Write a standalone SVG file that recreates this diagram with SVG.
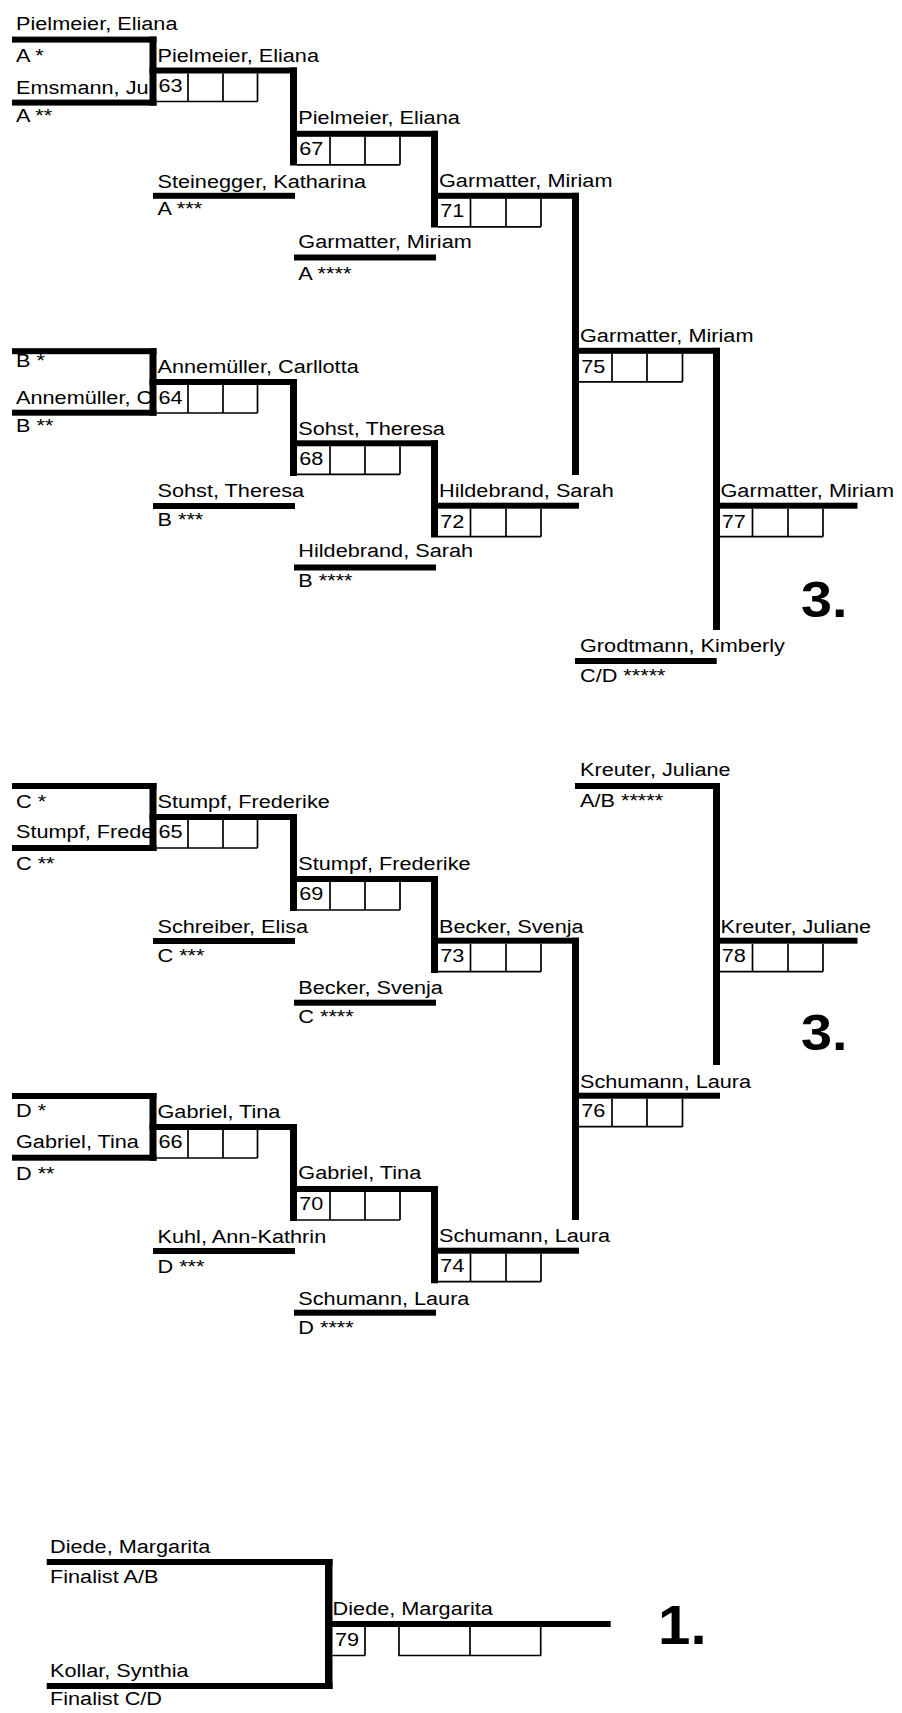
<svg xmlns="http://www.w3.org/2000/svg" width="902" height="1713" viewBox="0 0 902 1713">
<style>
.b{fill:#000}
.c{fill:none;stroke:#000;stroke-width:1.7}
.t{font-family:"Liberation Sans",Arial,sans-serif;font-size:19.2px;fill:#000}
.big{font-family:"Liberation Sans",Arial,sans-serif;font-size:50px;font-weight:bold;fill:#000}
.big1{font-family:"Liberation Sans",Arial,sans-serif;font-size:56px;font-weight:bold;fill:#000}
</style>
<defs>
<clipPath id="clipL" clipPathUnits="userSpaceOnUse"><rect x="-20" y="-30" width="138.8" height="40"/></clipPath>
</defs>
<rect width="902" height="1713" fill="#fff"/>

<!-- Block A -->
<g id="entrant-A1"><rect class="b" x="12" y="36.6" width="144.5" height="6"/><text class="t" transform="translate(16,30) scale(1.13,1)">Pielmeier, Eliana</text><text class="t" transform="translate(16,61.7) scale(1.13,1)">A *</text></g>
<g id="entrant-A2"><rect class="b" x="12" y="99.6" width="144.5" height="6"/><text class="t" clip-path="url(#clipL)" transform="translate(16,94.3) scale(1.13,1)">Emsmann, Ju</text><text class="t" transform="translate(16,121.7) scale(1.13,1)">A **</text></g>
<g id="match-63"><rect class="b" x="149.5" y="67.5" width="147.5" height="6"/><path class="c" d="M156.5,101.5H257.5M188,73.5V101.5M223,73.5V101.5M257.5,73.5V101.5"/><text class="t" transform="translate(157.5,62.3) scale(1.13,1)">Pielmeier, Eliana</text><text class="t" transform="translate(158.5,91.8) scale(1.13,1)">63</text></g>
<g id="match-67"><rect class="b" x="290" y="130.8" width="148" height="6"/><path class="c" d="M297,164.8H400M330,136.8V164.8M365,136.8V164.8M400,136.8V164.8"/><text class="t" transform="translate(298.3,124) scale(1.13,1)">Pielmeier, Eliana</text><text class="t" transform="translate(299.3,155) scale(1.13,1)">67</text></g>
<g id="entrant-A3"><rect class="b" x="153" y="192.8" width="142" height="6"/><text class="t" transform="translate(157.5,187.7) scale(1.13,1)">Steinegger, Katharina</text><text class="t" transform="translate(157.5,215) scale(1.13,1)">A ***</text></g>
<g id="match-71"><rect class="b" x="431" y="192.8" width="148" height="6"/><path class="c" d="M438,226.8H541M470.5,198.8V226.8M506,198.8V226.8M541,198.8V226.8"/><text class="t" transform="translate(439,187.3) scale(1.13,1)">Garmatter, Miriam</text><text class="t" transform="translate(440.3,217.3) scale(1.13,1)">71</text></g>
<g id="entrant-A4"><rect class="b" x="294" y="254.5" width="142" height="6"/><text class="t" transform="translate(298.3,247.7) scale(1.13,1)">Garmatter, Miriam</text><text class="t" transform="translate(298.3,280) scale(1.13,1)">A ****</text></g>
<g id="match-75"><rect class="b" x="572" y="347.8" width="148" height="6"/><path class="c" d="M579,381.8H682.5M612,353.8V381.8M647,353.8V381.8M682.5,353.8V381.8"/><text class="t" transform="translate(580,341.7) scale(1.13,1)">Garmatter, Miriam</text><text class="t" transform="translate(581.3,372.5) scale(1.13,1)">75</text></g>
<g id="match-77"><rect class="b" x="713" y="502.7" width="144.5" height="6"/><path class="c" d="M720,536.7H823M752.5,508.7V536.7M788,508.7V536.7M823,508.7V536.7"/><text class="t" transform="translate(720.5,497.3) scale(1.13,1)">Garmatter, Miriam</text><text class="t" transform="translate(721.8,527.5) scale(1.13,1)">77</text></g>
<g id="entrant-CD5"><rect class="b" x="575" y="658" width="141.7" height="6"/><text class="t" transform="translate(580,652.3) scale(1.13,1)">Grodtmann, Kimberly</text><text class="t" transform="translate(580,681.7) scale(1.13,1)">C/D *****</text></g>
<g id="place-3a"><text class="big" transform="translate(801,616.7) scale(1.115,1)">3.</text></g>

<!-- Block B -->
<g id="entrant-B1"><rect class="b" x="12" y="348.2" width="144.5" height="6"/><text class="t" transform="translate(16,366.7) scale(1.13,1)">B *</text></g>
<g id="entrant-B2"><rect class="b" x="12" y="409.7" width="144.5" height="6"/><text class="t" clip-path="url(#clipL)" transform="translate(16,404) scale(1.13,1)">Annemüller, C</text><text class="t" transform="translate(16,431.7) scale(1.13,1)">B **</text></g>
<g id="match-64"><rect class="b" x="149.5" y="379" width="147.5" height="6"/><path class="c" d="M156.5,413H257.5M188,385V413M223,385V413M257.5,385V413"/><text class="t" transform="translate(157.5,373.3) scale(1.13,1)">Annemüller, Carllotta</text><text class="t" transform="translate(158.5,403.5) scale(1.13,1)">64</text></g>
<g id="match-68"><rect class="b" x="290" y="440.3" width="148" height="6"/><path class="c" d="M297,474.3H400M330,446.3V474.3M365,446.3V474.3M400,446.3V474.3"/><text class="t" transform="translate(298.3,435) scale(1.13,1)">Sohst, Theresa</text><text class="t" transform="translate(299.3,464.8) scale(1.13,1)">68</text></g>
<g id="entrant-B3"><rect class="b" x="153" y="503" width="142" height="6"/><text class="t" transform="translate(157.5,496.7) scale(1.13,1)">Sohst, Theresa</text><text class="t" transform="translate(157.5,526) scale(1.13,1)">B ***</text></g>
<g id="match-72"><rect class="b" x="431" y="502.7" width="148" height="6"/><path class="c" d="M438,536.7H541M470.5,508.7V536.7M506,508.7V536.7M541,508.7V536.7"/><text class="t" transform="translate(439,497.3) scale(1.13,1)">Hildebrand, Sarah</text><text class="t" transform="translate(440.3,527.5) scale(1.13,1)">72</text></g>
<g id="entrant-B4"><rect class="b" x="294" y="564.5" width="142" height="6"/><text class="t" transform="translate(298.3,556.7) scale(1.13,1)">Hildebrand, Sarah</text><text class="t" transform="translate(298.3,586.7) scale(1.13,1)">B ****</text></g>

<!-- Block C -->
<g id="entrant-C1"><rect class="b" x="12" y="783" width="144.5" height="6"/><text class="t" transform="translate(16,807.7) scale(1.13,1)">C *</text></g>
<g id="entrant-C2"><rect class="b" x="12" y="845" width="144.5" height="6"/><text class="t" clip-path="url(#clipL)" transform="translate(16,838.3) scale(1.13,1)">Stumpf, Frede</text><text class="t" transform="translate(16,870) scale(1.13,1)">C **</text></g>
<g id="match-65"><rect class="b" x="149.5" y="814" width="147.5" height="6"/><path class="c" d="M156.5,848H257.5M188,820V848M223,820V848M257.5,820V848"/><text class="t" transform="translate(157.5,807.7) scale(1.13,1)">Stumpf, Frederike</text><text class="t" transform="translate(158.5,838.3) scale(1.13,1)">65</text></g>
<g id="match-69"><rect class="b" x="290" y="876" width="148" height="6"/><path class="c" d="M297,910H400M330,882V910M365,882V910M400,882V910"/><text class="t" transform="translate(298.3,870) scale(1.13,1)">Stumpf, Frederike</text><text class="t" transform="translate(299.3,900.3) scale(1.13,1)">69</text></g>
<g id="entrant-C3"><rect class="b" x="153" y="938" width="142" height="6"/><text class="t" transform="translate(157.5,932.7) scale(1.13,1)">Schreiber, Elisa</text><text class="t" transform="translate(157.5,961.7) scale(1.13,1)">C ***</text></g>
<g id="match-73"><rect class="b" x="431" y="937.7" width="148" height="6"/><path class="c" d="M438,971.7H541M470.5,943.7V971.7M506,943.7V971.7M541,943.7V971.7"/><text class="t" transform="translate(439,932.7) scale(1.13,1)">Becker, Svenja</text><text class="t" transform="translate(440.3,962) scale(1.13,1)">73</text></g>
<g id="entrant-C4"><rect class="b" x="294" y="999.7" width="142" height="6"/><text class="t" transform="translate(298.3,994) scale(1.13,1)">Becker, Svenja</text><text class="t" transform="translate(298.3,1023.3) scale(1.13,1)">C ****</text></g>
<g id="entrant-AB5"><rect class="b" x="575" y="783" width="145" height="6"/><text class="t" transform="translate(580,776) scale(1.13,1)">Kreuter, Juliane</text><text class="t" transform="translate(580,806.7) scale(1.13,1)">A/B *****</text></g>
<g id="match-78"><rect class="b" x="713" y="937.7" width="144.5" height="6"/><path class="c" d="M720,971.7H823M752.5,943.7V971.7M788,943.7V971.7M823,943.7V971.7"/><text class="t" transform="translate(720.5,932.7) scale(1.13,1)">Kreuter, Juliane</text><text class="t" transform="translate(721.8,962) scale(1.13,1)">78</text></g>
<g id="match-76"><rect class="b" x="572" y="1092.7" width="148" height="6"/><path class="c" d="M579,1126.7H682.5M612,1098.7V1126.7M647,1098.7V1126.7M682.5,1098.7V1126.7"/><text class="t" transform="translate(580,1087.7) scale(1.13,1)">Schumann, Laura</text><text class="t" transform="translate(581.3,1117.3) scale(1.13,1)">76</text></g>
<g id="place-3b"><text class="big" transform="translate(801,1050) scale(1.115,1)">3.</text></g>

<!-- Block D -->
<g id="entrant-D1"><rect class="b" x="12" y="1093" width="144.5" height="6"/><text class="t" transform="translate(16,1116.7) scale(1.13,1)">D *</text></g>
<g id="entrant-D2"><rect class="b" x="12" y="1154.7" width="144.5" height="6"/><text class="t" transform="translate(16,1148.3) scale(1.13,1)">Gabriel, Tina</text><text class="t" transform="translate(16,1180) scale(1.13,1)">D **</text></g>
<g id="match-66"><rect class="b" x="149.5" y="1124" width="147.5" height="6"/><path class="c" d="M156.5,1158H257.5M188,1130V1158M223,1130V1158M257.5,1130V1158"/><text class="t" transform="translate(157.5,1118.3) scale(1.13,1)">Gabriel, Tina</text><text class="t" transform="translate(158.5,1148.3) scale(1.13,1)">66</text></g>
<g id="match-70"><rect class="b" x="290" y="1186" width="148" height="6"/><path class="c" d="M297,1220H400M330,1192V1220M365,1192V1220M400,1192V1220"/><text class="t" transform="translate(298.3,1179.3) scale(1.13,1)">Gabriel, Tina</text><text class="t" transform="translate(299.3,1210.3) scale(1.13,1)">70</text></g>
<g id="entrant-D3"><rect class="b" x="153" y="1248" width="142" height="6"/><text class="t" transform="translate(157.5,1242.7) scale(1.13,1)">Kuhl, Ann-Kathrin</text><text class="t" transform="translate(157.5,1272.7) scale(1.13,1)">D ***</text></g>
<g id="match-74"><rect class="b" x="431" y="1247.7" width="148" height="6"/><path class="c" d="M438,1281.7H541M470.5,1253.7V1281.7M506,1253.7V1281.7M541,1253.7V1281.7"/><text class="t" transform="translate(439,1241.7) scale(1.13,1)">Schumann, Laura</text><text class="t" transform="translate(440.3,1272.3) scale(1.13,1)">74</text></g>
<g id="entrant-D4"><rect class="b" x="294" y="1309.7" width="142" height="6"/><text class="t" transform="translate(298.3,1305) scale(1.13,1)">Schumann, Laura</text><text class="t" transform="translate(298.3,1334.3) scale(1.13,1)">D ****</text></g>

<!-- Final -->
<g id="finalist-AB"><rect class="b" x="46.7" y="1559" width="285.8" height="6"/><text class="t" transform="translate(50,1552.7) scale(1.13,1)">Diede, Margarita</text><text class="t" transform="translate(50,1582.7) scale(1.13,1)">Finalist A/B</text></g>
<g id="finalist-CD"><rect class="b" x="46.7" y="1683" width="285.8" height="6"/><text class="t" transform="translate(50,1676.7) scale(1.13,1)">Kollar, Synthia</text><text class="t" transform="translate(50,1705) scale(1.13,1)">Finalist C/D</text></g>
<g id="match-79"><rect class="b" x="325" y="1621" width="285.7" height="6"/><path class="c" d="M332.5,1655.5H365M365,1627V1655.5M399,1627V1655.5H540.7V1627M470,1627V1655.5"/><text class="t" transform="translate(332.6,1614.5) scale(1.13,1)">Diede, Margarita</text><text class="t" transform="translate(335,1646) scale(1.13,1)">79</text></g>
<g id="place-1"><text class="big1" transform="translate(658,1644) scale(1.04,1)">1.</text></g>

<!-- Connectors -->
<g id="connectors" class="b">
<rect x="149.5" y="36.6" width="7" height="69"/>
<rect x="290" y="67.5" width="7" height="98"/>
<rect x="431" y="130.8" width="7" height="96.7"/>
<rect x="572" y="192.8" width="7" height="282.2"/>
<rect x="713" y="347.8" width="7" height="282.2"/>
<rect x="149.5" y="348.2" width="7" height="67.5"/>
<rect x="290" y="379" width="7" height="97"/>
<rect x="431" y="440.3" width="7" height="97.2"/>
<rect x="149.5" y="783" width="7" height="68"/>
<rect x="290" y="814" width="7" height="97"/>
<rect x="431" y="876" width="7" height="97"/>
<rect x="572" y="937.7" width="7" height="282.3"/>
<rect x="713" y="783" width="7" height="282"/>
<rect x="149.5" y="1093" width="7" height="67.7"/>
<rect x="290" y="1124" width="7" height="97"/>
<rect x="431" y="1186" width="7" height="97.3"/>
<rect x="325" y="1559" width="7.5" height="130"/>
</g>
</svg>
